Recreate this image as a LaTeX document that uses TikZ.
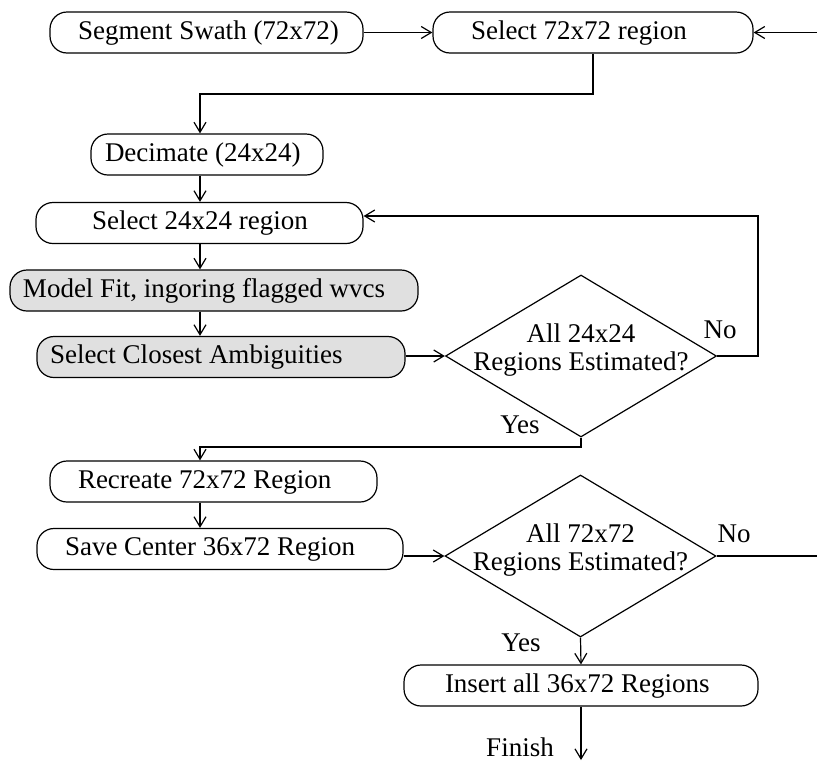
\documentclass[tikz,border=0pt]{standalone}
\usepackage{fontspec}
\setmainfont{Liberation Serif}
\usetikzlibrary{shapes.geometric,arrows.meta}
\definecolor{boxgray}{RGB}{224,224,224}
% fixed-width, left-aligned label inside a process box
\newcommand\padtext[2]{\makebox[#1][l]{#2}}

\begin{document}
\begin{tikzpicture}[x=1pt,y=-1pt,
  font=\fontsize{27}{28}\selectfont,
  line width=1.2pt,
  flow/.style={draw, rounded corners=17pt, minimum height=41pt,
    inner ysep=0pt, text height=19pt, text depth=6pt},
  shaded/.style={flow, fill=boxgray},
  decision/.style={draw, diamond, minimum width=271pt, minimum height=162pt,
    inner sep=0pt},
  dtext/.style={align=center, inner sep=0pt},
  link/.style={-{Straight Barb[length=10pt,width=12pt]}},
  tag/.style={inner sep=0pt, anchor=base}]

\useasboundingbox (0,0) rectangle (817,761);

% process boxes
\node[flow, inner xsep=28pt] (seg)  at (206.5,32.5) {\padtext{257pt}{Segment Swath (72x72)}};
\node[flow, inner xsep=38pt] (sel72) at (593,32.5)  {\padtext{244pt}{Select 72x72 region}};
\node[flow, inner xsep=14pt] (dec)  at (207,154.5)  {\padtext{204pt}{Decimate (24x24)}};
\node[flow, inner xsep=56pt] (sel24) at (199.5,223) {\padtext{215pt}{Select 24x24 region}};
\node[shaded, inner xsep=13pt] (fit) at (214,290.5) {\padtext{382pt}{Model Fit, ingoring flagged wvcs}};
\node[shaded, inner xsep=13pt] (amb) at (221,357)   {\padtext{342pt}{Select Closest Ambiguities}};
\node[flow, inner xsep=28pt] (recr) at (213.5,481.5) {\padtext{271pt}{Recreate 72x72 Region}};
\node[flow, inner xsep=28pt] (save) at (220,549)    {\padtext{310pt}{Save Center 36x72 Region}};
\node[flow, inner xsep=41pt] (ins)  at (581,685.5)  {\padtext{272pt}{Insert all 36x72 Regions}};

% decisions
\node[decision] (all24) at (581,356) {};
\node[dtext] (all24t) at (581,350) {All 24x24\\Regions Estimated?};
\node[decision] (all72) at (580.5,556) {};
\node[dtext] (all72t) at (580.5,550) {All 72x72\\Regions Estimated?};

% branch labels
\node[tag] (no1)  at (720,338) {No};
\node[tag] (yes1) at (520,433) {Yes};
\node[tag] (no2)  at (734,542) {No};
\node[tag] (yes2) at (521,651) {Yes};
\node[tag] (fint) at (520,756) {Finish};

% helper points
\coordinate (spine) at (200,0);
\coordinate (drop1) at (200,94);
\coordinate (loopR) at (758,216);
\coordinate (drop2) at (200,447);
\coordinate (rin)   at (817,32.5);
\coordinate (rout)  at (817,556);
\coordinate (fin)   at (581,760);

% connectors
\draw[link] (seg.east) -- (sel72.west);
\draw[link] (rin) -- (sel72.east);
\draw[link] (sel72.south) |- (drop1) -- (dec.north -| drop1);
\draw[link] (dec.south -| spine) -- (sel24.north -| spine);
\draw[link] (sel24.south -| spine) -- (fit.north -| spine);
\draw[link] (fit.south -| spine) -- (amb.north -| spine);
\draw[link] (amb.east |- all24.west) -- (all24.west);
\draw[link] (all24.east) -| (loopR) -- (sel24.east |- loopR);
\draw[link] (all24.south) |- (drop2) -- (recr.north -| drop2);
\draw[link] (recr.south -| spine) -- (save.north -| spine);
\draw[link] (save.east |- all72.west) -- (all72.west);
\draw (all72.east) -- (rout);
\draw[link] (all72.south) -- (ins.north);
\draw[link] (ins.south) -- (fin);

\end{tikzpicture}
\end{document}
